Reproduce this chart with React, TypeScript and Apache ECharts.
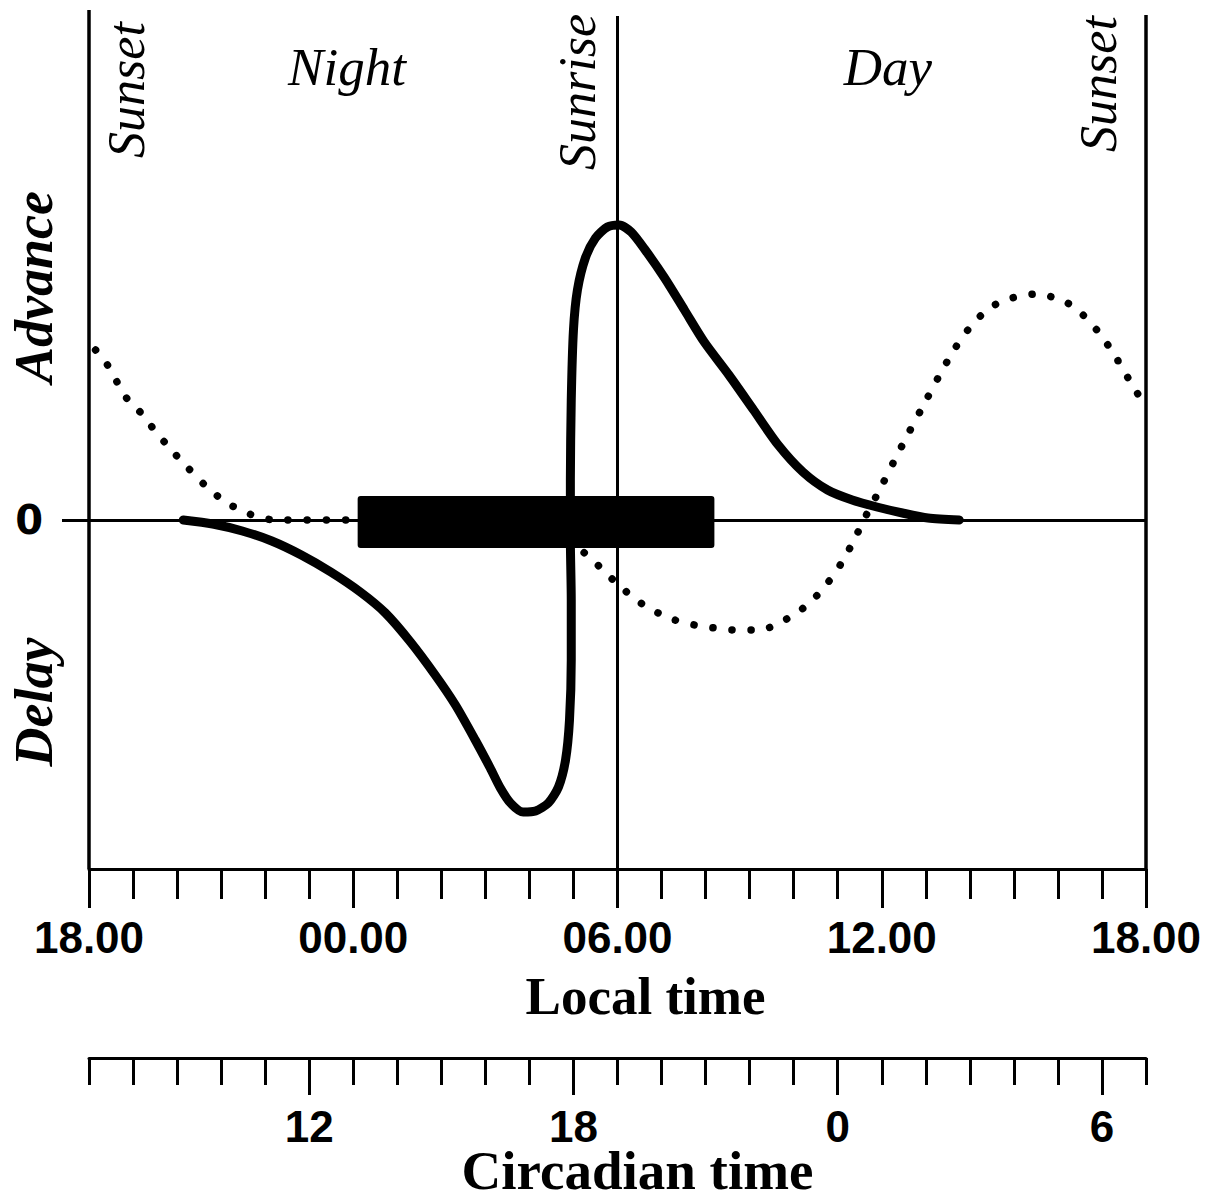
import React, { useEffect, useRef } from "react";
import * as echarts from "echarts";

// Local time axis: hours elapsed since 18.00
const localTickHours = [0, 1, 2, 3, 4, 5, 6, 7, 8, 9, 10, 11, 12, 13, 14, 15, 16, 17, 18, 19, 20, 21, 22, 23, 24];
const localMajorHours = [0, 6, 12, 18, 24];
const localMajorLabels = ["18.00", "00.00", "06.00", "12.00", "18.00"];

// Circadian time axis (CT 7 at the left edge, runs to CT 7 of the next cycle = 31)
const ctTickValues = [7, 8, 9, 10, 11, 12, 13, 14, 15, 16, 17, 18, 19, 20, 21, 22, 23, 24, 25, 26, 27, 28, 29, 30, 31];
const ctMajorValues = [12, 18, 24, 30];
const ctMajorLabels = ["12", "18", "0", "6"];

// Sunset / sunrise reference lines (hours since 18.00) with their top values
const sunLineHours = [0, 12, 24];
const sunLineTops = [5.1, 5.04, 5.05];

// Sleep period bar: [start h, end h, low, high]
const sleepBar = [[6.1, 14.2, -0.28, 0.24]];

// Light phase-response curve (solid) [hours since 18.00, phase shift]
const lightPRC = [
  [2.14, 0], [2.81, -0.04], [3.48, -0.11], [4.15, -0.21], [4.82, -0.35], [5.49, -0.52],
  [6.16, -0.72], [6.73, -0.93], [7.3, -1.22], [7.86, -1.55], [8.32, -1.85], [8.77, -2.2],
  [9.11, -2.48], [9.34, -2.68], [9.57, -2.83], [9.86, -2.92], [10.14, -2.91], [10.43, -2.83],
  [10.66, -2.67], [10.82, -2.4], [10.91, -2.0], [10.95, -1.4], [10.95, -0.8], [10.93, -0.2],
  [10.93, 0.4], [10.95, 1.2], [11.0, 1.9], [11.09, 2.3], [11.27, 2.62], [11.5, 2.82],
  [11.77, 2.93], [12.04, 2.95], [12.31, 2.88], [12.63, 2.7], [13.07, 2.42], [13.52, 2.1],
  [13.97, 1.78], [14.53, 1.45], [15.09, 1.1], [15.65, 0.75], [16.21, 0.48], [16.77, 0.3],
  [17.33, 0.2], [17.89, 0.13], [18.47, 0.07], [19.05, 0.02], [19.76, 0]
];

// Dotted phase-response curve [hours since 18.00, phase shift]
const dottedPRC = [
  [0.15, 1.7], [0.42, 1.55], [0.65, 1.37], [0.87, 1.21], [1.16, 1.08],
  [1.43, 0.93], [1.81, 0.73], [2.25, 0.52], [2.7, 0.32], [3.14, 0.17], [3.59, 0.07],
  [3.93, 0.02], [4.26, 0], [6.0, 0], [9.5, 0], [10.23, -0.03], [10.57, -0.1],
  [10.91, -0.2], [11.25, -0.33], [11.6, -0.47], [11.95, -0.62], [12.29, -0.75],
  [12.63, -0.86], [12.97, -0.94], [13.3, -1.0], [13.75, -1.05], [14.2, -1.08],
  [14.65, -1.1], [15.09, -1.1], [15.42, -1.08], [15.76, -1.01], [16.1, -0.92],
  [16.43, -0.8], [16.77, -0.63], [17.1, -0.42], [17.37, -0.2], [17.65, 0.05], [17.95, 0.3],
  [18.27, 0.58], [18.61, 0.87], [18.95, 1.15], [19.29, 1.43], [19.64, 1.7], [19.99, 1.92],
  [20.34, 2.08], [20.69, 2.18], [21.05, 2.23], [21.51, 2.26], [21.87, 2.23], [22.22, 2.17],
  [22.57, 2.05], [22.92, 1.88], [23.27, 1.66], [23.62, 1.4], [23.97, 1.15]
];

const Y_MIN = -3.49;
const Y_MAX = 5.1;

const SERIF = "'Liberation Serif', 'Times New Roman', serif";
const SANS = "'Liberation Sans', Arial, sans-serif";

export default function App() {
  const ref = useRef<HTMLDivElement>(null);

  useEffect(() => {
    if (!ref.current) return;
    const chart = echarts.init(ref.current, null, { renderer: "svg" });

    const tickLabelStyle = {
      fontFamily: SANS,
      fontWeight: "bold",
      fontSize: 44,
      lineHeight: 36,
      color: "#000",
    };

    const sunLines = sunLineHours.map((h, i) => [
      { coord: [h, sunLineTops[i]], lineStyle: { width: i === 1 ? 3 : 3.5 } },
      { coord: [h, Y_MIN] },
    ]);

    const option: any = {
      animation: false,
      backgroundColor: "#fff",
      grid: {
        left: 89,
        right: 72,
        top: 10,
        bottom: 331,
        containLabel: false,
        outerBoundsMode: "none",
      },
      xAxis: [
        {
          type: "value",
          min: 0,
          max: 24,
          position: "bottom",
          axisLine: { show: true, onZero: false, lineStyle: { color: "#000", width: 3 } },
          axisTick: { show: true, customValues: localTickHours, length: 30, lineStyle: { color: "#000", width: 3 } },
          axisLabel: {
            show: true,
            customValues: localMajorHours,
            formatter: (v: number) => localMajorLabels[localMajorHours.indexOf(v)] ?? "",
            margin: 50,
            ...tickLabelStyle,
          },
          splitLine: { show: false },
          name: "Local time",
          nameLocation: "middle",
          nameGap: 100,
          nameMoveOverlap: false,
          nameTextStyle: { fontFamily: SERIF, fontWeight: "bold", fontSize: 53, color: "#000", padding: [0, 0, 0, 56] },
        },
        {
          type: "value",
          min: 0,
          max: 24,
          position: "bottom",
          axisLine: { show: false, onZero: false },
          axisTick: { show: true, customValues: localMajorHours, length: 39, lineStyle: { color: "#000", width: 3 } },
          axisLabel: { show: false },
          splitLine: { show: false },
        },
        {
          type: "value",
          min: 7,
          max: 31,
          position: "bottom",
          offset: 189,
          axisLine: { show: true, onZero: false, lineStyle: { color: "#000", width: 3 } },
          axisTick: { show: true, customValues: ctTickValues, length: 27, lineStyle: { color: "#000", width: 3 } },
          axisLabel: {
            show: true,
            customValues: ctMajorValues,
            formatter: (v: number) => ctMajorLabels[ctMajorValues.indexOf(v)] ?? "",
            margin: 50,
            ...tickLabelStyle,
          },
          splitLine: { show: false },
          name: "Circadian time",
          nameLocation: "middle",
          nameGap: 90,
          nameMoveOverlap: false,
          nameTextStyle: { fontFamily: SERIF, fontWeight: "bold", fontSize: 55, lineHeight: 45, color: "#000", padding: [0, 0, 0, 40] },
        },
        {
          type: "value",
          min: 7,
          max: 31,
          position: "bottom",
          offset: 189,
          axisLine: { show: false, onZero: false },
          axisTick: { show: true, customValues: ctMajorValues, length: 37, lineStyle: { color: "#000", width: 3 } },
          axisLabel: { show: false },
          splitLine: { show: false },
        },
      ],
      yAxis: {
        type: "value",
        min: Y_MIN,
        max: Y_MAX,
        axisLine: { show: false },
        splitLine: { show: false },
        axisTick: { show: true, customValues: [0], length: 27, lineStyle: { color: "#000", width: 3 } },
        axisLabel: {
          show: true,
          customValues: [0],
          margin: 46,
          fontFamily: "'DejaVu Sans', sans-serif",
          fontWeight: "bold",
          fontSize: 40,
          color: "#000",
        },
      },
      series: [
        {
          type: "line",
          name: "dotted",
          data: dottedPRC,
          xAxisIndex: 0,
          yAxisIndex: 0,
          showSymbol: false,
          smooth: 0.3,
          z: 2,
          lineStyle: { color: "#000", width: 7.5, type: [0.1, 19], cap: "round" },
          markLine: {
            silent: true,
            symbol: "none",
            label: { show: false },
            lineStyle: { color: "#000", width: 3, type: "solid" },
            data: [
              ...sunLines,
              [{ coord: [0, 0], lineStyle: { width: 3 } }, { coord: [24, 0] }],
            ],
          },
        },
        {
          type: "custom",
          name: "sleep",
          data: sleepBar,
          xAxisIndex: 0,
          yAxisIndex: 0,
          z: 3,
          encode: { x: [0, 1], y: [2, 3] },
          renderItem: (params: any, api: any) => {
            const p1 = api.coord([api.value(0), api.value(3)]);
            const p2 = api.coord([api.value(1), api.value(2)]);
            return {
              type: "rect",
              shape: { x: p1[0], y: p1[1], width: p2[0] - p1[0], height: p2[1] - p1[1], r: 3 },
              style: { fill: "#000" },
            };
          },
        },
        {
          type: "line",
          name: "light",
          data: lightPRC,
          xAxisIndex: 0,
          yAxisIndex: 0,
          showSymbol: false,
          smooth: 0.25,
          z: 4,
          lineStyle: { color: "#000", width: 9, cap: "round", join: "round" },
        },
      ],
      graphic: [
        { type: "text", x: 126, y: 90, rotation: Math.PI / 2, style: { text: "Sunset", fontFamily: SERIF, fontStyle: "italic", fontSize: 52, fill: "#000", align: "center", verticalAlign: "middle" } },
        { type: "text", x: 347, y: 67, style: { text: "Night", fontFamily: SERIF, fontStyle: "italic", fontSize: 53, fill: "#000", align: "center", verticalAlign: "middle" } },
        { type: "text", x: 577, y: 92, rotation: Math.PI / 2, style: { text: "Sunrise", fontFamily: SERIF, fontStyle: "italic", fontSize: 52, fill: "#000", align: "center", verticalAlign: "middle" } },
        { type: "text", x: 888, y: 67, style: { text: "Day", fontFamily: SERIF, fontStyle: "italic", fontSize: 53, fill: "#000", align: "center", verticalAlign: "middle" } },
        { type: "text", x: 1098, y: 84, rotation: Math.PI / 2, style: { text: "Sunset", fontFamily: SERIF, fontStyle: "italic", fontSize: 52, fill: "#000", align: "center", verticalAlign: "middle" } },
        { type: "text", x: 34, y: 287, rotation: Math.PI / 2, style: { text: "Advance", fontFamily: SERIF, fontStyle: "italic", fontWeight: "bold", fontSize: 54, fill: "#000", align: "center", verticalAlign: "middle" } },
        { type: "text", x: 34, y: 702, rotation: Math.PI / 2, style: { text: "Delay", fontFamily: SERIF, fontStyle: "italic", fontWeight: "bold", fontSize: 54, fill: "#000", align: "center", verticalAlign: "middle" } },
      ],
    };

    chart.setOption(option);
    return () => chart.dispose();
  }, []);

  return (
    <div
      ref={ref}
      style={{ position: "fixed", left: 0, top: 0, width: 1218, height: 1200, background: "#fff" }}
    />
  );
}
